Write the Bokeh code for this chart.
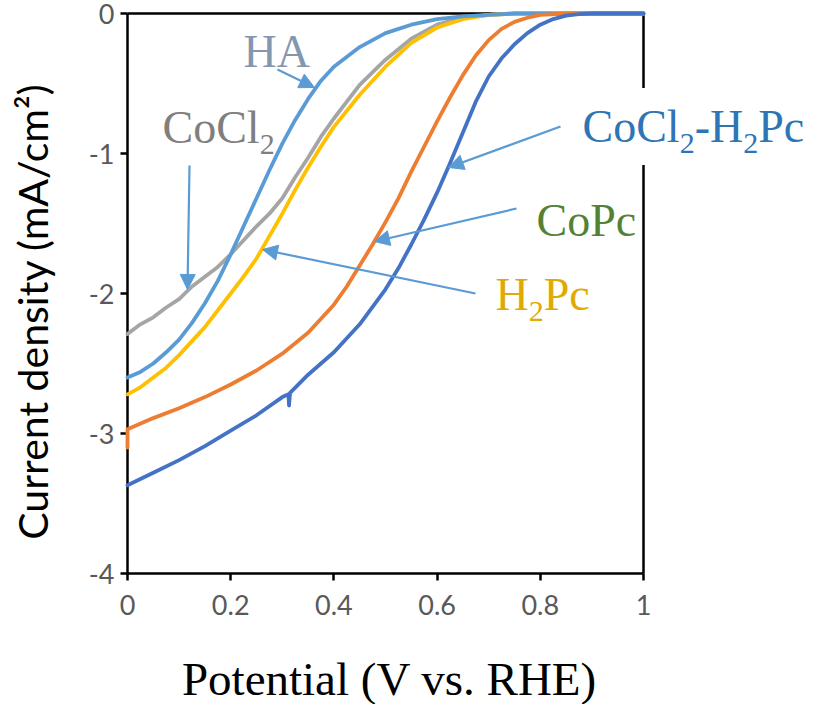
import math
from bokeh.plotting import figure
from bokeh.models import (Label, Arrow, NormalHead, FixedTicker, LinearAxis,
                          NumeralTickFormatter)
from bokeh.embed import file_html
from bokeh.resources import INLINE

# ---------------- data ----------------
# CoCl2-H2Pc (dark blue)
x_cocl2_h2pc = [0, 0.05, 0.1, 0.15, 0.2, 0.25, 0.3, 0.312, 0.313, 0.315, 0.35, 0.4,
                0.45, 0.5, 0.525, 0.55, 0.575, 0.6, 0.625, 0.65, 0.675, 0.7, 0.725,
                0.75, 0.775, 0.8, 0.825, 0.85, 0.875, 0.9, 1.0]
y_cocl2_h2pc = [-3.37, -3.28, -3.19, -3.09, -2.98, -2.87, -2.74, -2.72, -2.80, -2.71,
                -2.58, -2.42, -2.22, -1.97, -1.82, -1.65, -1.47, -1.28, -1.07, -0.85,
                -0.63, -0.45, -0.32, -0.22, -0.14, -0.08, -0.04, -0.015, -0.005, 0, 0]
# CoPc (orange)
x_copc = [0, 0, 0.05, 0.1, 0.15, 0.2, 0.25, 0.3, 0.35, 0.4, 0.425, 0.45, 0.475, 0.5,
          0.525, 0.55, 0.575, 0.6, 0.625, 0.65, 0.675, 0.7, 0.725, 0.75, 0.775, 0.8,
          0.85, 1.0]
y_copc = [-3.10, -2.97, -2.89, -2.82, -2.74, -2.65, -2.55, -2.43, -2.28, -2.08, -1.95,
          -1.80, -1.65, -1.49, -1.32, -1.13, -0.95, -0.77, -0.60, -0.44, -0.30, -0.19,
          -0.11, -0.06, -0.03, -0.01, 0, 0]
# HA (light blue)
x_ha = [0, 0.025, 0.05, 0.075, 0.1, 0.125, 0.15, 0.175, 0.2, 0.225, 0.25, 0.275, 0.3,
        0.325, 0.35, 0.375, 0.4, 0.45, 0.5, 0.55, 0.6, 0.65, 0.7, 0.75, 1.0]
y_ha = [-2.60, -2.56, -2.50, -2.42, -2.33, -2.21, -2.07, -1.91, -1.72, -1.52, -1.32,
        -1.12, -0.93, -0.76, -0.61, -0.48, -0.38, -0.24, -0.14, -0.08, -0.04, -0.02,
        -0.01, 0, 0]
# CoCl2 (gray)
x_cocl2 = [0, 0.025, 0.05, 0.075, 0.1, 0.125, 0.15, 0.175, 0.2, 0.225, 0.25, 0.275,
           0.3, 0.325, 0.35, 0.375, 0.4, 0.45, 0.5, 0.55, 0.6, 0.65, 0.7, 0.75, 1.0]
y_cocl2 = [-2.29, -2.22, -2.17, -2.10, -2.04, -1.95, -1.88, -1.81, -1.72, -1.62, -1.52,
           -1.43, -1.32, -1.17, -1.03, -0.88, -0.75, -0.51, -0.33, -0.18, -0.08, -0.03,
           -0.01, 0, 0]
# H2Pc (yellow)
x_h2pc = [0, 0.025, 0.05, 0.075, 0.1, 0.15, 0.2, 0.225, 0.25, 0.275, 0.3, 0.325, 0.35,
          0.375, 0.4, 0.45, 0.5, 0.55, 0.6, 0.65, 0.7, 0.75, 1.0]
y_h2pc = [-2.72, -2.67, -2.60, -2.53, -2.44, -2.24, -2.00, -1.88, -1.75, -1.59, -1.43,
          -1.26, -1.10, -0.95, -0.81, -0.58, -0.38, -0.21, -0.10, -0.04, -0.01, 0, 0]

x_ticks = [0, 0.2, 0.4, 0.6, 0.8, 1]
y_ticks = [0, -1, -2, -3, -4]
x_bounds = (0, 1)
y_bounds = (-4, 0)
x_title = "Potential (V vs. RHE)"
y_title = "Current density (mA/cm\u00b2)"

# ---------------- layout: frame covers the whole canvas ----------------
FIG_W, FIG_H = 820, 704
PX_X0, PX_X1 = 127, 643      # pixel position of x = 0 and x = 1
PX_Y0, PX_Y1 = 13, 573       # pixel position of y = 0 and y = -4
sx = (PX_X1 - PX_X0) / (x_bounds[1] - x_bounds[0])
sy = (PX_Y1 - PX_Y0) / (y_bounds[1] - y_bounds[0])


def dx(px):
    return (px - PX_X0) / sx


def dy(py):
    return -(py - PX_Y0) / sy


p = figure(width=FIG_W, height=FIG_H, output_backend="svg", toolbar_location=None,
           x_range=(dx(0), dx(FIG_W)), y_range=(dy(FIG_H), dy(0)),
           x_axis_location=None, y_axis_location=None,
           min_border_left=0, min_border_right=0, min_border_top=0,
           min_border_bottom=0)
p.grid.visible = False
p.outline_line_color = None
p.background_fill_color = "white"
p.border_fill_color = "white"

tick_font = "Lato"


def make_axis(ticks, fmt, loc, bounds, labels=True):
    ax = LinearAxis(fixed_location=loc, bounds=bounds,
                    ticker=FixedTicker(ticks=ticks),
                    formatter=NumeralTickFormatter(format=fmt))
    ax.axis_line_color = "black"
    ax.axis_line_width = 2.5
    ax.minor_tick_line_color = None
    if labels:
        ax.major_tick_line_color = "black"
        ax.major_tick_line_width = 2.5
        ax.major_tick_in = 0
        ax.major_tick_out = 7
        ax.major_label_text_font = tick_font
        ax.major_label_text_font_size = "27px"
        ax.major_label_text_color = "#595959"
    else:
        ax.major_tick_line_color = None
        ax.major_label_text_font_size = "0px"
        ax.major_label_text_color = None
    return ax


xa = make_axis(x_ticks, "0.[0]", y_bounds[0], x_bounds)
xa.major_label_standoff = 14
ya = make_axis(y_ticks, "0", x_bounds[0], y_bounds)
ya.major_label_standoff = 6
p.add_layout(xa, "below")
p.add_layout(ya, "left")
p.add_layout(make_axis([], "0", y_bounds[1], x_bounds, labels=False), "above")
p.add_layout(make_axis([], "0", x_bounds[1], y_bounds, labels=False), "right")

series = [
    (x_cocl2, y_cocl2, "#A5A5A5"),
    (x_h2pc, y_h2pc, "#FFC000"),
    (x_ha, y_ha, "#5B9BD5"),
    (x_copc, y_copc, "#ED7D31"),
    (x_cocl2_h2pc, y_cocl2_h2pc, "#4472C4"),
]
for xs, ys, c in series:
    r = p.line(xs, ys, line_color=c, line_width=3.8, line_join="round",
               line_cap="round")
    r.level = "annotation"

# ---------------- annotations ----------------
ARROW = "#5B9BD5"
arrows = [
    ((277, 69), (314, 87)),     # HA
    ((189, 165), (187, 289)),   # CoCl2
    ((560, 126), (448, 167)),   # CoCl2-H2Pc
    ((516, 208), (374, 241)),   # CoPc
    ((475, 293), (262, 249)),   # H2Pc
]
for (ax0, ay0), (ax1, ay1) in arrows:
    p.add_layout(Arrow(x_start=dx(ax0), y_start=dy(ay0), x_end=dx(ax1),
                       y_end=dy(ay1), line_color=ARROW, line_width=2.2,
                       end=NormalHead(size=15, fill_color=ARROW, line_color=ARROW,
                                      line_width=1)))

SERIF = "Liberation Serif"
ADV = {"C": 0.667, "o": 0.5, "l": 0.278, "H": 0.722, "A": 0.722, "P": 0.556,
       "c": 0.444, "-": 0.333, "2": 0.5}
MAIN = 46
SUB = 30
DROP = 11
BASE_FIX = 0.37   # correction of the renderer's baseline placement (em)
PAD = 13


def rich(px, py, parts, color, bg=False):
    off = 0.0
    for i, (txt, sub) in enumerate(parts):
        fs = SUB if sub else MAIN
        kw = {}
        xo = off
        if bg and i == 0:
            kw = dict(background_fill_color="white", padding=PAD)
            xo = off - PAD
        p.add_layout(Label(x=dx(px), y=dy(py), x_offset=xo,
                           y_offset=(-DROP if sub else 0) + BASE_FIX * fs,
                           text=txt, text_font=SERIF, text_font_size=f"{fs}px",
                           text_color=color, text_align="left",
                           text_baseline="alphabetic", **kw))
        off += sum(ADV[ch] for ch in txt) * fs


rich(243, 68, [("HA", False)], "#8497B0")
rich(162, 144, [("CoCl", False), ("2", True)], "#7F7F7F")
rich(582, 143, [("CoCl", False), ("2", True), ("-H", False), ("2", True),
                ("Pc", False)], "#2E75B6", bg=True)
rich(536, 237, [("CoPc", False)], "#548235")
rich(495, 311, [("H", False), ("2", True), ("Pc", False)], "#E0AA00")

# axis titles
p.add_layout(Label(x=dx(389), y=dy(696), y_offset=BASE_FIX * 47, text=x_title,
                   text_font=SERIF, text_font_size="47px", text_color="black",
                   text_align="center", text_baseline="alphabetic"))
p.add_layout(Label(x=dx(52 - 20), y=dy(311), text=y_title, text_font="Lato",
                   text_font_size="41px", text_color="black", text_align="center",
                   text_baseline="alphabetic", angle=math.pi / 2))

open("out.html", "w").write(file_html(p, INLINE))
